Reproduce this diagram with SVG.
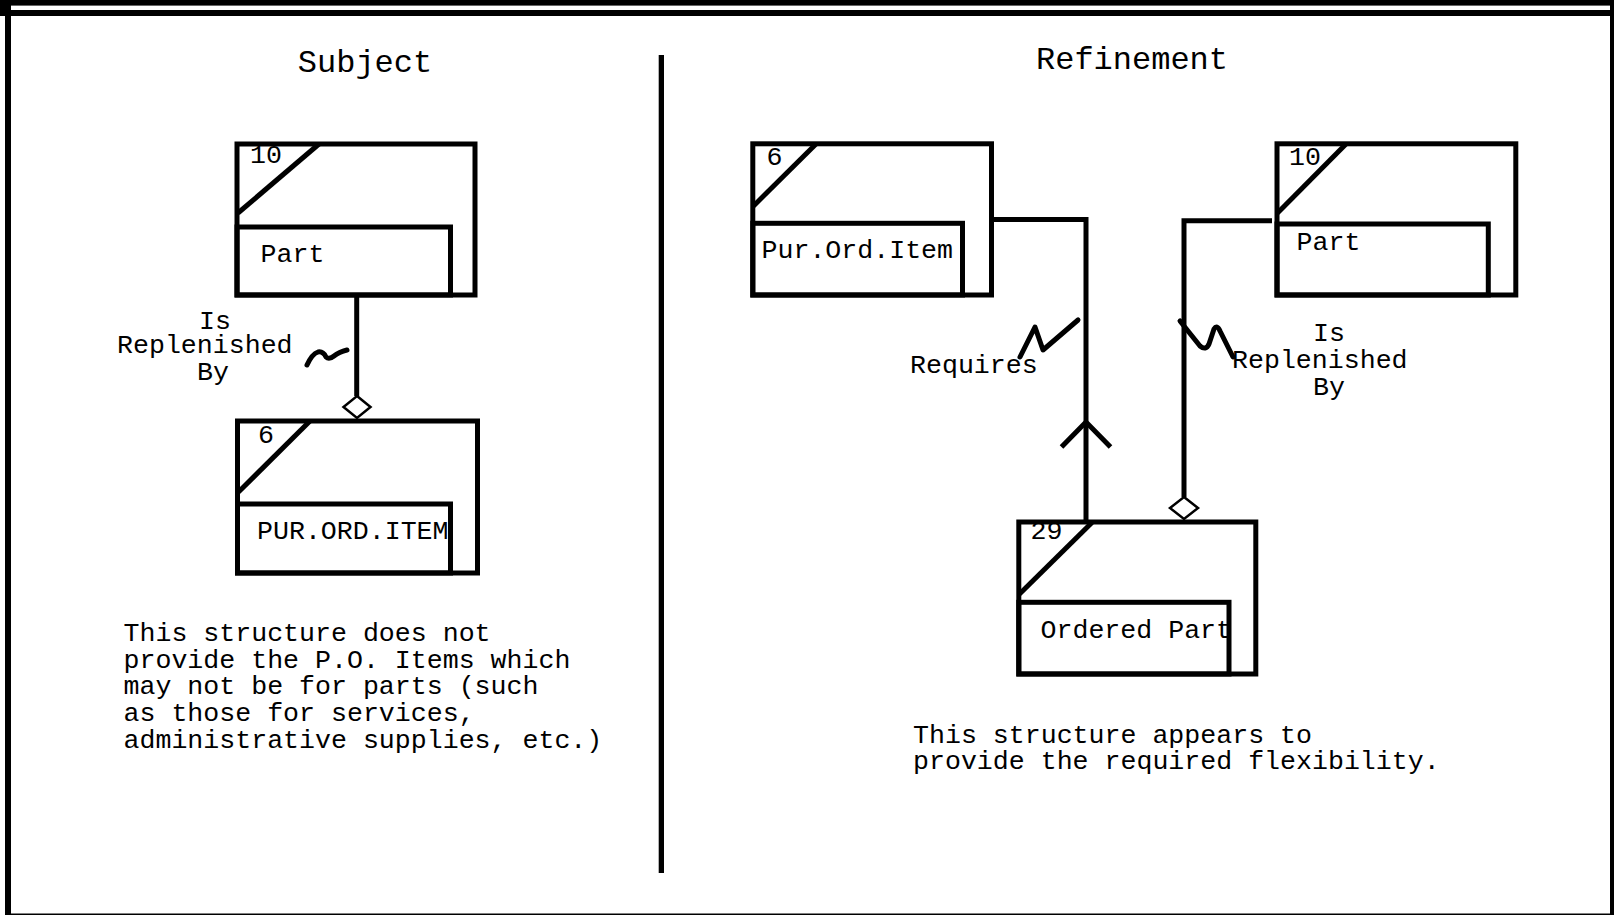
<svg xmlns="http://www.w3.org/2000/svg" width="1614" height="915" viewBox="0 0 1614 915">
<style>
.box{fill:none;stroke:#000;stroke-width:5}
.ln{fill:none;stroke:#000;stroke-width:5}
.sq{fill:none;stroke:#000;stroke-width:5;stroke-linecap:round;stroke-linejoin:round}
.dm{fill:#fff;stroke:#000;stroke-width:2.5}
.t{font-family:"Liberation Mono","Courier New",monospace;font-size:26.6px;fill:#000}
.title{font-family:"Liberation Mono","Courier New",monospace;font-size:32px;fill:#000}
</style>
<rect x="0" y="0" width="1614" height="915" fill="#fff"/>
<g id="frame" fill="#000">
<rect x="0" y="0" width="1614" height="5.6"/>
<rect x="0" y="10" width="1614" height="6"/>
<rect x="0" y="5" width="5" height="6"/>
<rect x="5" y="0" width="6" height="915"/>
<rect x="1610" y="0" width="4" height="915"/>
<rect x="11" y="913.5" width="1603" height="1.5"/>
<rect x="658.7" y="55" width="5.3" height="818"/>
</g>
<text class="title" x="365" y="72" text-anchor="middle">Subject</text>
<text class="title" x="1132" y="69" text-anchor="middle">Refinement</text>

<g id="connectors">
<line class="ln" x1="356.7" y1="295" x2="356.7" y2="396"/>
<polygon class="dm" points="357,396 370.5,407 357,418 343.5,407"/>
<path class="sq" stroke-width="6" d="M307,365 Q312,354 318,352 Q323,351 326,357 Q329,360 334,356 Q339,352 347,350"/>
<polyline class="ln" points="991.5,219.5 1086,219.5 1086,522"/>
<polyline class="ln" points="1061.5,447 1086,422 1110.5,447"/>
<path class="sq" d="M1020,357 L1035,327 L1043,350 L1078,320"/>
<polyline class="ln" points="1272,220.7 1184,220.7 1184,497"/>
<polygon class="dm" points="1184,497 1198,508 1184,519 1170,508"/>
<path class="sq" d="M1180,321 L1200,346 Q1206,351 1209,344 L1214,329 Q1217,324 1220,331 L1233,357"/>
</g>

<g id="lbl-left">
<text class="t" x="199" y="329">Is</text>
<text class="t" x="117" y="353">Replenished</text>
<text class="t" x="197" y="380">By</text>
</g>
<g id="lbl-requires"><text class="t" x="910" y="373">Requires</text></g>
<g id="lbl-right">
<text class="t" x="1313" y="341">Is</text>
<text class="t" x="1232" y="368">Replenished</text>
<text class="t" x="1313" y="395">By</text>
</g>

<g id="node-part-left">
<rect class="box" x="237" y="144" width="238" height="151"/>
<rect class="box" x="237" y="227" width="213.5" height="68"/>
<line class="box" x1="238" y1="213" x2="319" y2="144"/>
<text class="t" x="250" y="163">10</text>
<text class="t" x="260.5" y="262">Part</text>
</g>

<g id="node-poi-left">
<rect class="box" x="237.5" y="421" width="240" height="152"/>
<rect class="box" x="237.5" y="504" width="213" height="69"/>
<line class="box" x1="238.5" y1="492" x2="310" y2="421"/>
<text class="t" x="258" y="443">6</text>
<text class="t" x="257" y="539">PUR.ORD.ITEM</text>
</g>

<g id="node-poi-right">
<rect class="box" x="752.8" y="143.8" width="238.7" height="151.2"/>
<rect class="box" x="752.8" y="223.3" width="209.7" height="71.7"/>
<line class="box" x1="753.5" y1="206" x2="816" y2="144"/>
<text class="t" x="766.5" y="165">6</text>
<text class="t" x="761.5" y="258">Pur.Ord.Item</text>
</g>

<g id="node-part-right">
<rect class="box" x="1277" y="143.8" width="238.8" height="151.2"/>
<rect class="box" x="1277" y="224" width="211.3" height="71"/>
<line class="box" x1="1277.5" y1="213" x2="1346" y2="144"/>
<text class="t" x="1289" y="165">10</text>
<text class="t" x="1296.5" y="250">Part</text>
</g>

<g id="node-ordered-part">
<rect class="box" x="1018.8" y="522" width="237" height="152"/>
<rect class="box" x="1018.8" y="602.3" width="210.2" height="71.7"/>
<line class="box" x1="1019.5" y1="594" x2="1092" y2="522.5"/>
<text class="t" x="1030.5" y="539">29</text>
<text class="t" x="1040.5" y="638">Ordered Part</text>
</g>

<g id="note-left">
<text class="t" x="123.5" y="641">This structure does not</text>
<text class="t" x="123.5" y="667.7">provide the P.O. Items which</text>
<text class="t" x="123.5" y="694.4">may not be for parts (such</text>
<text class="t" x="123.5" y="721.1">as those for services,</text>
<text class="t" x="123.5" y="747.8">administrative supplies, etc.)</text>
</g>
<g id="note-right">
<text class="t" x="913" y="742.5">This structure appears to</text>
<text class="t" x="913" y="769.2">provide the required flexibility.</text>
</g>
</svg>
